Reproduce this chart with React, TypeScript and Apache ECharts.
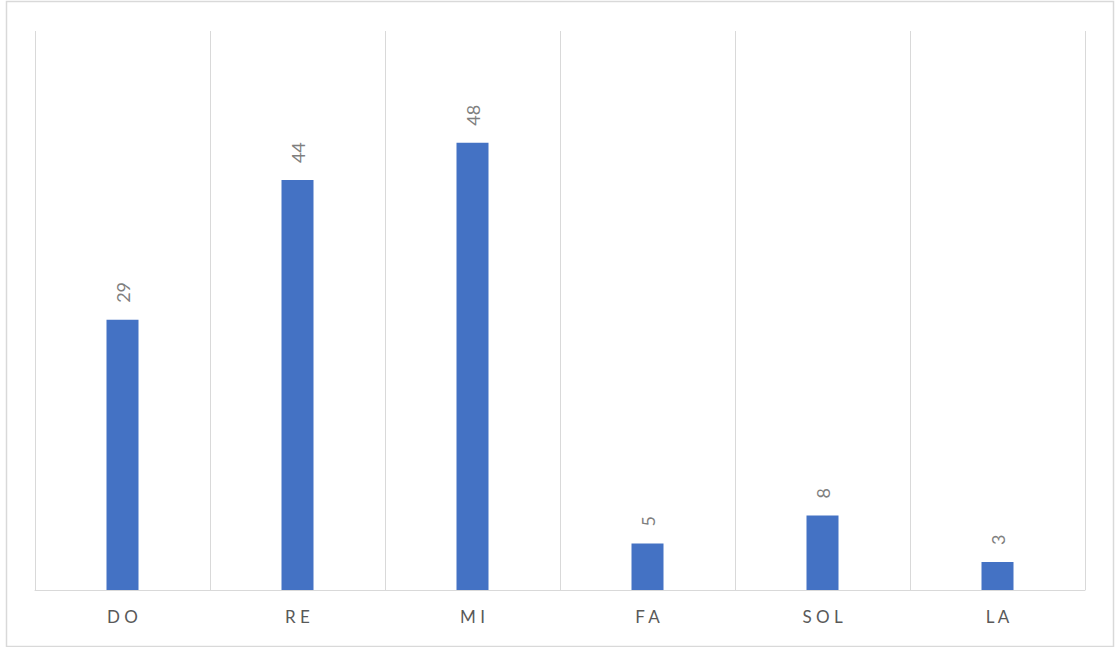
import React, { useEffect, useRef } from "react";
import * as echarts from "echarts";

const categories = ["DO", "RE", "MI", "FA", "SOL", "LA"];
const values = [29, 44, 48, 5, 8, 3];
const yMax = 60;

export default function App() {
  const ref = useRef<HTMLDivElement>(null);
  useEffect(() => {
    if (!ref.current) return;
    const chart = echarts.init(ref.current, undefined, { renderer: "svg" });
    chart.setOption({
      animation: false,
      backgroundColor: "#ffffff",
      graphic: [
        {
          type: "rect",
          shape: { x: 6.5, y: 1.5, width: 1107, height: 645 },
          style: { fill: "none", stroke: "#d9d9d9", lineWidth: 1.5 },
          silent: true,
        },
      ],
      grid: { left: 35, right: 32, top: 31, bottom: 57, containLabel: false },
      xAxis: {
        type: "category",
        data: categories,
        boundaryGap: true,
        axisLine: { show: true, lineStyle: { color: "#d9d9d9", width: 1 } },
        axisTick: { show: false },
        splitLine: { show: true, lineStyle: { color: "#d9d9d9", width: 1 } },
        axisLabel: {
          color: "#595959",
          fontSize: 17,
          fontFamily: "Lato, 'Noto Sans', sans-serif",
          margin: 18,
          formatter: (v: string) => v.split("").join(" "),
        },
      },
      yAxis: {
        type: "value",
        min: 0,
        max: yMax,
        show: false,
        splitLine: { show: false },
      },
      series: [
        {
          type: "bar",
          data: values,
          barWidth: 32,
          itemStyle: { color: "#4472C4" },
          label: {
            show: true,
            position: "top",
            rotate: 90,
            align: "left",
            verticalAlign: "middle",
            distance: 17,
            color: "#7f7f7f",
            fontSize: 18,
            fontFamily: "Lato, 'Noto Sans', sans-serif",
          },
        },
      ],
    });
    return () => chart.dispose();
  }, []);
  return (
    <div
      ref={ref}
      style={{ position: "fixed", left: 0, top: 0, width: 1117, height: 647 }}
    />
  );
}
